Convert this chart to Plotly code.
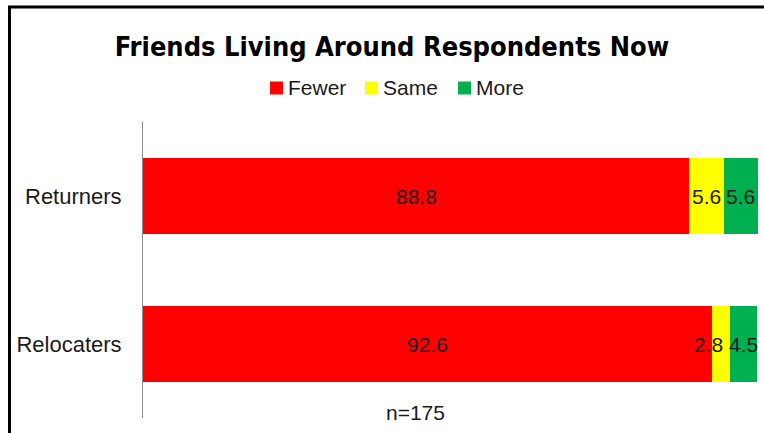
import plotly.graph_objects as go

# Survey groups (bottom to top) and share of respondents per answer, in %
groups = ["Relocaters", "Returners"]
series_names = ["Fewer", "Same", "More"]
fewer = [92.6, 88.8]
same = [2.8, 5.6]
more = [4.5, 5.6]
colors = ["#FF0000", "#FFFF00", "#00B050"]
sample_note = "n=175"

values = [fewer, same, more]

W, H = 764, 433
ML, MR, MT, MB = 143, 6, 122, 15
PW, PH = W - ML - MR, H - MT - MB


def px_x(px):
    return (px - ML) / PW


def px_y(py):
    return (H - MB - py) / PH


fig = go.Figure()
for name, vals, col in zip(series_names, values, colors):
    fig.add_trace(go.Bar(
        y=groups, x=vals, name=name, orientation="h",
        marker=dict(color=col, line=dict(width=0)),
        width=0.51, showlegend=False,
    ))

label_font = dict(family="Liberation Sans, Arial, sans-serif", size=21, color="#1a1a1a")
annotations = []
shapes = []

# value labels centred on each segment
for gi, g in enumerate(groups):
    start = 0.0
    for si, vals in enumerate(values):
        v = vals[gi]
        shift = 0
        # nudge the narrow middle segment label so it clears its neighbour
        if si == 1 and v < 4:
            shift = -13
        annotations.append(dict(
            x=start + v / 2, y=g, xref="x", yref="y",
            text=f"{v:.1f}", showarrow=False, font=label_font, xshift=shift,
        ))
        start += v

# legend row: colour swatch followed by series name
legend_left = [270, 365, 458]
legend_cy = 88
for name, col, lx in zip(series_names, colors, legend_left):
    shapes.append(dict(
        type="rect", xref="paper", yref="paper",
        x0=px_x(lx), x1=px_x(lx + 13),
        y0=px_y(legend_cy + 6.5), y1=px_y(legend_cy - 6.5),
        fillcolor=col, line=dict(width=0),
    ))
    annotations.append(dict(
        x=px_x(lx + 16), y=px_y(legend_cy), xref="paper", yref="paper",
        text=name, showarrow=False, xanchor="left", yanchor="middle",
        font=label_font,
    ))

annotations.append(dict(
    x=px_x(415), y=px_y(412), xref="paper", yref="paper", text=sample_note,
    showarrow=False, font=label_font, yanchor="middle",
))

# chart frame (left and top edges)
shapes.append(dict(
    type="path", xref="paper", yref="paper",
    path=f"M {px_x(9.5)},{px_y(440)} L {px_x(9.5)},{px_y(7)} L {px_x(770)},{px_y(7)}",
    line=dict(color="black", width=3),
))

fig.update_layout(
    width=W, height=H,
    margin=dict(l=ML, r=MR, t=MT, b=MB),
    paper_bgcolor="white", plot_bgcolor="white",
    barmode="stack",
    showlegend=False,
    title=dict(
        text="<b>Friends Living Around Respondents Now</b>",
        x=0.513, xref="container", xanchor="center",
        y=1 - 47 / H, yref="container", yanchor="middle",
        font=dict(family="Liberation Sans Narrow, Arial Narrow, DejaVu Sans Condensed, sans-serif",
                  size=27, color="black"),
    ),
    xaxis=dict(range=[0, 100], visible=False, fixedrange=True),
    yaxis=dict(
        range=[-0.5, 1.5], showline=True, linecolor="#8c8c8c", linewidth=1,
        showgrid=False, zeroline=False, ticks="", ticklabelstandoff=16,
        tickfont=dict(family="Liberation Sans, Arial, sans-serif", size=22, color="#1a1a1a"),
    ),
    annotations=annotations,
    shapes=shapes,
)

fig.write_html("out.html")
